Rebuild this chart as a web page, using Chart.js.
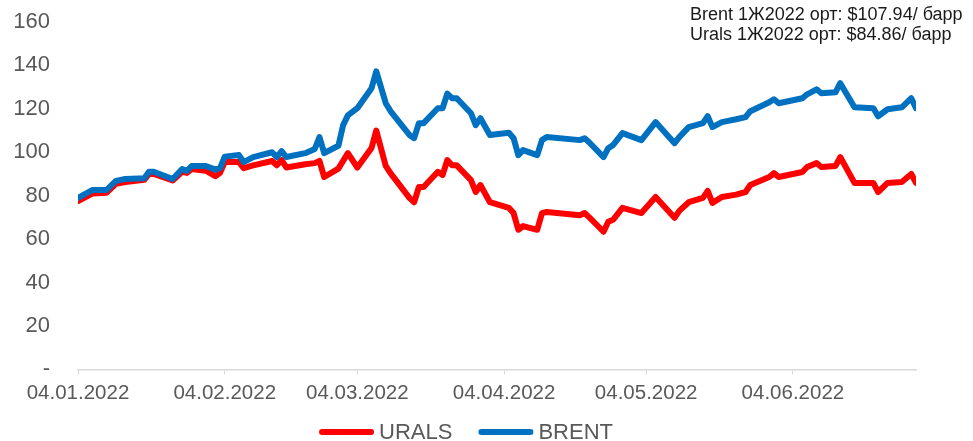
<!DOCTYPE html>
<html>
<head>
<meta charset="utf-8">
<script src="https://cdn.jsdelivr.net/npm/chart.js@4"></script>
<style>
  html, body { margin: 0; padding: 0; background: #fff; }
  #wrap { width: 973px; height: 441px; position: relative; }
</style>
</head>
<body>
<div id="wrap"><canvas id="oilChart"></canvas></div>
<script>
/* ─── DATA ─────────────────────────────────────────────────── */
const DATES = [
  '04.01.2022', '07.01.2022', '10.01.2022', '12.01.2022', '14.01.2022', '18.01.2022', '19.01.2022', '20.01.2022',
  '24.01.2022', '26.01.2022', '27.01.2022', '28.01.2022', '31.01.2022', '02.02.2022', '03.02.2022', '04.02.2022',
  '07.02.2022', '08.02.2022', '10.02.2022', '14.02.2022', '15.02.2022', '16.02.2022', '17.02.2022', '21.02.2022',
  '23.02.2022', '24.02.2022', '25.02.2022', '28.02.2022', '01.03.2022', '02.03.2022', '04.03.2022', '07.03.2022',
  '08.03.2022', '10.03.2022', '11.03.2022', '15.03.2022', '16.03.2022', '17.03.2022', '18.03.2022', '21.03.2022',
  '22.03.2022', '23.03.2022', '24.03.2022', '25.03.2022', '28.03.2022', '29.03.2022', '30.03.2022', '01.04.2022',
  '05.04.2022', '06.04.2022', '07.04.2022', '08.04.2022', '11.04.2022', '12.04.2022', '13.04.2022', '20.04.2022',
  '21.04.2022', '22.04.2022', '25.04.2022', '26.04.2022', '27.04.2022', '29.04.2022', '03.05.2022', '06.05.2022',
  '10.05.2022', '11.05.2022', '13.05.2022', '16.05.2022', '17.05.2022', '18.05.2022', '20.05.2022', '23.05.2022',
  '25.05.2022', '26.05.2022', '30.05.2022', '31.05.2022', '01.06.2022', '06.06.2022', '07.06.2022', '09.06.2022',
  '10.06.2022', '13.06.2022', '14.06.2022', '17.06.2022', '21.06.2022', '22.06.2022', '24.06.2022', '27.06.2022',
  '29.06.2022', '30.06.2022',
];
const BRENT = [
  79, 82.6, 82.6, 86.8, 87.7, 88, 91, 91,
  87.7, 92.3, 91.4, 93.7, 93.7, 92, 92.7, 98,
  98.7, 95.5, 97.8, 100, 97.8, 100.5, 97.8, 99.6,
  101.5, 107, 99.6, 103, 112.5, 117, 120.3, 129.5,
  137.3, 122.6, 119, 108, 106.5, 113.4, 113.4, 120.3,
  120.3, 127, 124.9, 124.9, 118, 112.5, 115.7, 108,
  109, 106.5, 98.7, 101, 98.7, 105.6, 107, 105.6,
  106.5, 104.5, 97.8, 101.9, 103.3, 108.8, 105.6, 113.9,
  104.2, 107, 111.6, 113.4, 116.6, 111.6, 113.9, 115.2,
  116.2, 118.9, 123, 124.4, 122.6, 124.9, 126.7, 129,
  127.2, 127.6, 131.8, 120.7, 120.3, 116.6, 119.8, 120.7,
  124.9, 120.3,
];
const URALS = [
  77.5, 81, 81.3, 85.5, 86.3, 87.3, 90, 90,
  87, 91, 90.5, 92.3, 91.5, 89, 90.5, 95.5,
  95.5, 92.7, 94, 96, 94, 96.4, 93, 94.5,
  95, 96, 88.6, 92.5, 96, 99.6, 93, 102,
  110, 93.7, 90.4, 79, 77, 84, 84, 91,
  89.5, 96.4, 94, 94, 87.2, 81.7, 84.9, 77,
  74.4, 72, 64.3, 66, 64.3, 72, 72.5, 71,
  72, 70, 63.4, 68, 68.9, 74.4, 72, 79.4,
  69.8, 73, 77, 79, 82.2, 76.7, 79.4, 80.5,
  81.7, 84.9, 88.6, 90.4, 88.6, 90.9, 93.2, 95,
  93.2, 93.7, 97.8, 85.9, 85.9, 81.7, 85.9, 86.3,
  90, 85.9,
];
const X_TICKS = ['04.01.2022', '04.02.2022', '04.03.2022', '04.04.2022', '04.05.2022', '04.06.2022'];
const Y_TICKS = [0, 20, 40, 60, 80, 100, 120, 140, 160];
const NOTES = ['Brent 1Ж2022 орт: $107.94/ барр', 'Urals 1Ж2022 орт: $84.86/ барр'];

const FONT = '"Liberation Sans", Arial, sans-serif';
const GREY = '#595959';

// 'DD.MM.YYYY' -> номер дня
function dayNum(s) {
  const [d, m, y] = s.split('.').map(Number);
  return Date.UTC(y, m - 1, d) / 864e5;
}
function fmtDay(n) {
  const dt = new Date(n * 864e5);
  const p = v => String(v).padStart(2, '0');
  return `${p(dt.getUTCDate())}.${p(dt.getUTCMonth() + 1)}.${dt.getUTCFullYear()}`;
}

const series = vals => DATES.map((d, i) => ({ x: dayNum(d), y: vals[i] }));

/* ─── ПОДПИСЬ СВЕРХУ + ЛЕГЕНДА ────────────────────────────── */
const notesPlugin = {
  id: 'notes',
  afterDraw(chart) {
    const ctx = chart.ctx;
    ctx.save();
    ctx.font = `18px ${FONT}`;
    ctx.fillStyle = '#1a1a1a';
    ctx.textAlign = 'left';
    ctx.textBaseline = 'alphabetic';
    NOTES.forEach((t, i) => ctx.fillText(t, 690, 19.5 + i * 20));

    // легенда: линия + подпись, порядок как в датасетах
    ctx.font = `22px ${FONT}`;
    ctx.textBaseline = 'middle';
    const lineW = 55, gap = 5, itemGap = 26, y = 432;
    const items = chart.data.datasets.map(d => ({ label: d.label, color: d.borderColor, w: ctx.measureText(d.label).width }));
    const total = items.reduce((s, it) => s + lineW + gap + it.w, 0) + itemGap * (items.length - 1);
    let x = 466 - total / 2;
    items.forEach(it => {
      ctx.strokeStyle = it.color; ctx.lineWidth = 6; ctx.lineCap = 'round';
      ctx.beginPath(); ctx.moveTo(x + 3, y); ctx.lineTo(x + lineW - 3, y); ctx.stroke();
      ctx.fillStyle = GREY;
      ctx.fillText(it.label, x + lineW + gap, y + 1);
      x += lineW + gap + it.w + itemGap;
    });
    ctx.restore();
  },
};

new Chart(document.getElementById('oilChart'), {
  type: 'line',
  data: {
    datasets: [
      { label: 'URALS', data: series(URALS), borderColor: '#ff0000', backgroundColor: '#ff0000',
        borderWidth: 6, pointRadius: 0, tension: 0, borderCapStyle: 'round', borderJoinStyle: 'round', order: 1 },
      { label: 'BRENT', data: series(BRENT), borderColor: '#0070c0', backgroundColor: '#0070c0',
        borderWidth: 6, pointRadius: 0, tension: 0, borderCapStyle: 'round', borderJoinStyle: 'round', order: 0 },
    ],
  },
  options: {
    responsive: true, maintainAspectRatio: false, animation: false,
    layout: { padding: { left: 0, right: 57, top: 22, bottom: 28 } },
    plugins: {
      tooltip: { enabled: false },
      legend: { display: false },
    },
    scales: {
      x: {
        type: 'linear',
        min: dayNum(DATES[0]), max: dayNum(DATES[DATES.length - 1]),
        afterBuildTicks: s => { s.ticks = X_TICKS.map(t => ({ value: dayNum(t) })); },
        afterFit: s => { s.paddingLeft = 0; s.paddingRight = 0; },
        ticks: { callback: v => fmtDay(v), color: GREY, font: { size: 20.5, family: FONT }, padding: 7, maxRotation: 0, autoSkip: false },
        grid: { drawOnChartArea: false, color: '#d9d9d9', tickLength: 5 },
        border: { color: '#d9d9d9', width: 1.5 },
      },
      y: {
        min: 0, max: 160,
        afterBuildTicks: s => { s.ticks = Y_TICKS.map(v => ({ value: v })); },
        afterFit: s => { s.width = 78; s.paddingTop = 0; s.paddingBottom = 0; },
        ticks: { callback: v => (v === 0 ? '-' : v), color: GREY, font: { size: 22, family: FONT }, padding: 20 },
        grid: { display: false },
        border: { display: false },
      },
    },
  },
  plugins: [notesPlugin],
});
</script>
</body>
</html>
